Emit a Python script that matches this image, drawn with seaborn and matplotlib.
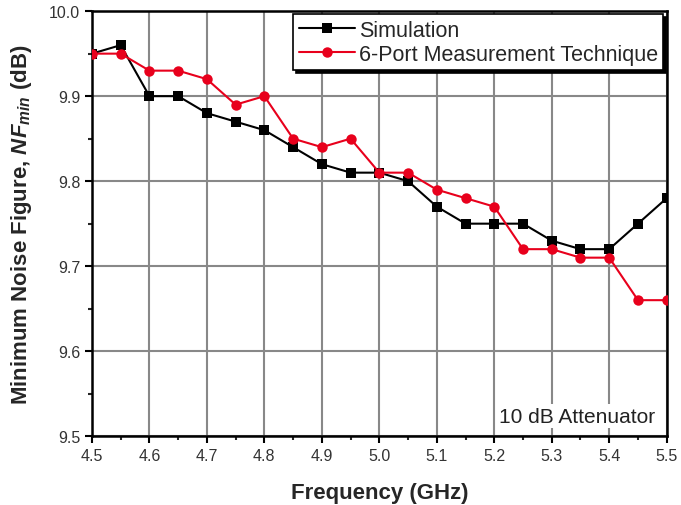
import numpy as np
import pandas as pd
import matplotlib
matplotlib.use("Agg")
import matplotlib.pyplot as plt
import seaborn as sns

freq = [4.50, 4.55, 4.60, 4.65, 4.70, 4.75, 4.80, 4.85, 4.90, 4.95, 5.00,
        5.05, 5.10, 5.15, 5.20, 5.25, 5.30, 5.35, 5.40, 5.45, 5.50]
simulation = [9.95, 9.96, 9.90, 9.90, 9.88, 9.87, 9.86, 9.84, 9.82, 9.81, 9.81,
              9.80, 9.77, 9.75, 9.75, 9.75, 9.73, 9.72, 9.72, 9.75, 9.78]
measurement = [9.95, 9.95, 9.93, 9.93, 9.92, 9.89, 9.90, 9.85, 9.84, 9.85, 9.81,
               9.81, 9.79, 9.78, 9.77, 9.72, 9.72, 9.71, 9.71, 9.66, 9.66]
series_names = ["Simulation", "6-Port Measurement Technique"]
x_ticks = [4.5, 4.6, 4.7, 4.8, 4.9, 5.0, 5.1, 5.2, 5.3, 5.4, 5.5]
y_ticks = [9.5, 9.6, 9.7, 9.8, 9.9, 10.0]

sns.set_style("white")
plt.rcParams['font.family'] = ['Liberation Sans', 'DejaVu Sans']
plt.rcParams['mathtext.fontset'] = 'custom'
plt.rcParams['mathtext.it'] = 'Liberation Sans:italic:bold'
plt.rcParams['mathtext.rm'] = 'Liberation Sans:bold'
plt.rcParams['mathtext.bf'] = 'Liberation Sans:bold'

df = pd.DataFrame({
    "Frequency": freq * 2,
    "NF": simulation + measurement,
    "Series": [series_names[0]] * len(freq) + [series_names[1]] * len(freq),
})

fig = plt.figure(figsize=(6.81, 5.06), dpi=100)
ax = fig.add_axes([0.135, 0.136, 0.844, 0.840])

sns.lineplot(data=df, x="Frequency", y="NF", hue="Series", style="Series",
             palette={series_names[0]: "black", series_names[1]: "#e8001c"},
             markers={series_names[0]: "s", series_names[1]: "o"},
             dashes=False, linewidth=1.5, markersize=7.5, markeredgewidth=0,
             ax=ax, zorder=3)
for line in ax.lines:
    if line.get_marker() == 's':
        line.set_markersize(7)

ax.set_xlim(4.5, 5.5)
ax.set_ylim(9.5, 10.0)
ax.set_xticks(x_ticks)
ax.set_yticks(y_ticks)
ax.set_xticklabels([f"{v:.1f}" for v in x_ticks])
ax.set_yticklabels([f"{v:.1f}" for v in y_ticks])
ax.set_xticks(np.arange(4.55, 5.5, 0.1), minor=True)
ax.set_yticks(np.arange(9.55, 10.0, 0.1), minor=True)
ax.tick_params(axis='both', which='major', direction='out', length=5, width=1.5,
               labelsize=11.5, colors='black', labelcolor='#333333')
ax.tick_params(axis='both', which='minor', direction='out', length=3, width=1.5)
ax.tick_params(axis='both', which='both', bottom=True, left=True)
ax.grid(True, which='major', color='#888888', linewidth=1.5)
ax.set_axisbelow(True)
for s in ax.spines.values():
    s.set_color('black')
    s.set_linewidth(1.8)

ax.set_xlabel("Frequency (GHz)", fontsize=16, fontweight='bold', labelpad=14)
ax.set_ylabel(r"Minimum Noise Figure, $NF_{min}$ (dB)", fontsize=16,
              fontweight='bold', labelpad=11)

leg = ax.legend(loc='upper right', fontsize=15.5, frameon=True, fancybox=False,
                shadow={'color': 'black', 'alpha': 1.0}, borderpad=0.25,
                handlelength=2.6, handletextpad=0.2, labelspacing=0.15,
                borderaxespad=0.15)
leg.get_frame().set_edgecolor('black')
leg.get_frame().set_linewidth(1.2)
leg.get_frame().set_alpha(1.0)

ax.text(0.98, 0.025, "10 dB Attenuator", transform=ax.transAxes, ha='right',
        va='bottom', fontsize=15, color='#222222', zorder=4,
        bbox=dict(facecolor='white', edgecolor='none', pad=2))

fig.savefig("out.png", dpi=100)
